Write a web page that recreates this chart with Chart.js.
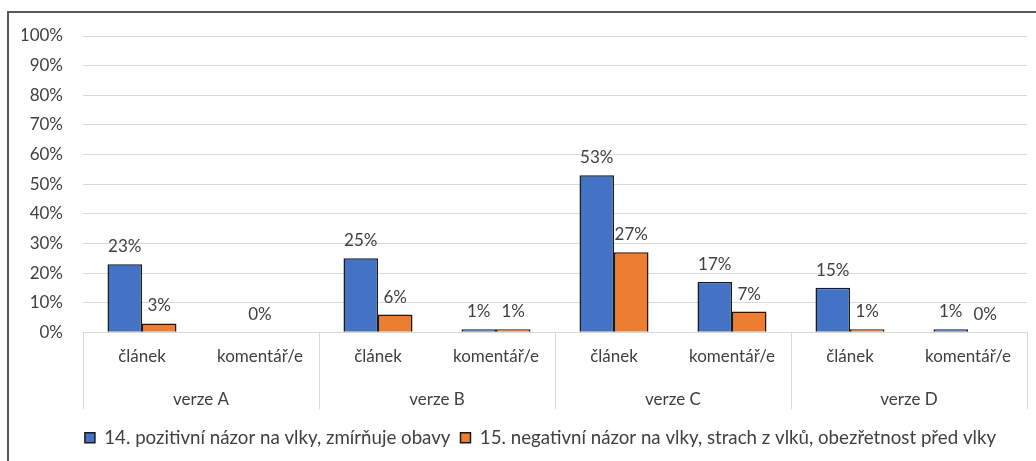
<!DOCTYPE html>
<html>
<head>
<meta charset="utf-8">
<script src="https://cdn.jsdelivr.net/npm/chart.js@4.4.1/dist/chart.umd.min.js"></script>
<style>
  html, body { margin: 0; padding: 0; background: #fff; }
  #frame {
    position: absolute; left: 7px; top: 11px; width: 1040px; height: 460px;
    border: 2px solid #595959; box-sizing: border-box;
  }
  #wrap { position: absolute; left: 0; top: 0; width: 1036px; height: 461px; }
</style>
</head>
<body>
<div id="frame"></div>
<div id="wrap"><canvas id="chart"></canvas></div>
<script>
const groups = ["verze A", "verze B", "verze C", "verze D"];
const categories = ["článek", "komentář/e", "článek", "komentář/e", "článek", "komentář/e", "článek", "komentář/e"];
const positive = [23, null, 25, 1, 53, 17, 15, 1];
const negative = [3, 0, 6, 1, 27, 7, 1, 0];
const seriesNames = [
  "14. pozitivní názor na vlky, zmírňuje obavy",
  "15. negativní názor na vlky, strach z vlků, obezřetnost před vlky"
];

const fontFamily = "Lato, 'Open Sans', sans-serif";
const textColor = "#404040";

// value labels above bars
const barLabels = {
  id: "barLabels",
  afterDatasetsDraw(chart) {
    const ctx = chart.ctx;
    ctx.save();
    ctx.font = "17px " + fontFamily;
    ctx.fillStyle = textColor;
    ctx.textAlign = "center";
    ctx.textBaseline = "alphabetic";
    chart.data.datasets.forEach((ds, di) => {
      chart.getDatasetMeta(di).data.forEach((bar, i) => {
        const v = ds.data[i];
        if (v === null) return;
        ctx.fillText(v + "%", bar.x, bar.y - 12);
      });
    });
    ctx.restore();
  }
};

// separators between the verze groups under the axis
const groupLines = {
  id: "groupLines",
  afterDraw(chart) {
    const x = chart.scales.x;
    const ctx = chart.ctx;
    const step = x.width / groups.length;
    ctx.save();
    ctx.strokeStyle = "#d9d9d9";
    ctx.lineWidth = 1;
    for (let i = 0; i <= groups.length; i++) {
      const px = Math.round(x.left + i * step) + 0.5;
      ctx.beginPath();
      ctx.moveTo(px, x.top);
      ctx.lineTo(px, x.top + 77);
      ctx.stroke();
    }
    ctx.restore();
  }
};

// legend sits a bit right of centre in the original
const legendShift = {
  id: "legendShift",
  afterLayout(chart) {
    chart.legend.left += 16;
    chart.legend.right += 16;
  }
};

new Chart(document.getElementById("chart"), {
  type: "bar",
  data: {
    labels: categories,
    datasets: [
      {
        label: seriesNames[0],
        data: positive,
        backgroundColor: "#4472C4",
        borderColor: "#1a1a1a",
        borderWidth: 1.5,
        categoryPercentage: 0.585,
        barPercentage: 1.0
      },
      {
        label: seriesNames[1],
        data: negative,
        backgroundColor: "#ED7D31",
        borderColor: "#1a1a1a",
        borderWidth: 1.5,
        categoryPercentage: 0.585,
        barPercentage: 1.0
      }
    ]
  },
  options: {
    responsive: true,
    maintainAspectRatio: false,
    animation: false,
    skipNull: true,
    layout: { padding: { left: 22, right: 9, top: 36, bottom: 4 } },
    plugins: {
      tooltip: { enabled: false },
      legend: {
        position: "bottom",
        labels: {
          color: textColor,
          font: { family: fontFamily, size: 18.7 },
          boxWidth: 10,
          boxHeight: 10,
          padding: 10
        }
      }
    },
    scales: {
      y: {
        min: 0,
        max: 100,
        ticks: {
          stepSize: 10,
          color: textColor,
          font: { family: fontFamily, size: 17 },
          padding: 20,
          callback: (v) => v + "%"
        },
        grid: { color: "#d9d9d9", lineWidth: 1, drawTicks: false },
        border: { display: false },
        afterFit(scale) { scale.width = 61; }
      },
      x: {
        ticks: {
          color: textColor,
          font: { family: fontFamily, size: 17 },
          padding: 14,
          maxRotation: 0,
          autoSkip: false
        },
        grid: { display: false, drawTicks: false },
        border: { display: true, color: "#d9d9d9" },
        afterFit(scale) { scale.height = 43; }
      },
      x2: {
        type: "category",
        labels: groups,
        position: "bottom",
        ticks: {
          color: textColor,
          font: { family: fontFamily, size: 17 },
          padding: 14,
          maxRotation: 0
        },
        grid: { display: false, drawTicks: false },
        border: { display: false },
        afterFit(scale) { scale.height = 43; }
      }
    }
  },
  plugins: [barLabels, groupLines, legendShift]
});
</script>
</body>
</html>
